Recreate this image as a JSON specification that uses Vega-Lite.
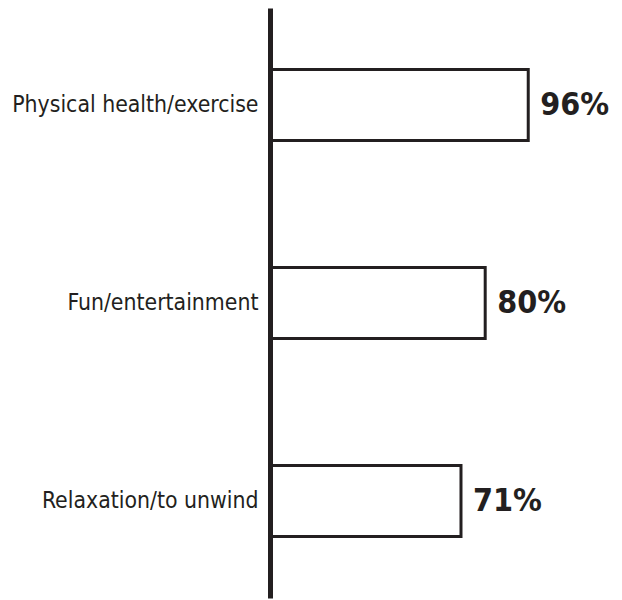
{
  "$schema": "https://vega.github.io/schema/vega-lite/v6.json",
  "width": 269,
  "height": 590,
  "autosize": "none",
  "padding": {"left": 270, "top": 8, "right": 83, "bottom": 2},
  "background": "white",
  "config": {"view": {"stroke": null}, "font": "DejaVu Sans Condensed, sans-serif"},
  "data": {"values": [
    {"reason": "Physical health/exercise", "share": 0.96},
    {"reason": "Fun/entertainment", "share": 0.80},
    {"reason": "Relaxation/to unwind", "share": 0.71}
  ]},
  "encoding": {
    "y": {
      "field": "reason", "type": "nominal", "sort": null,
      "scale": {"paddingInner": 0.6414, "paddingOuter": 0.3107},
      "axis": {
        "title": null, "ticks": false, "domainWidth": 5, "domainColor": "#231f20",
        "labelFontSize": 22.8, "labelColor": "#231f20", "labelPadding": 12, "labelLimit": 300,
        "labelFont": "DejaVu Sans Condensed, sans-serif", "zindex": 1
      }
    },
    "x": {"field": "share", "type": "quantitative", "scale": {"domain": [0, 1]}, "axis": null}
  },
  "layer": [
    {"mark": {"type": "bar", "fill": "white", "stroke": "#231f20", "strokeWidth": 3}},
    {"mark": {"type": "text", "align": "left", "baseline": "middle", "dx": 12, "fontSize": 32, "fontWeight": "bold", "color": "#231f20"},
     "encoding": {"text": {"field": "share", "type": "quantitative", "format": ".0%"}}}
  ]
}
